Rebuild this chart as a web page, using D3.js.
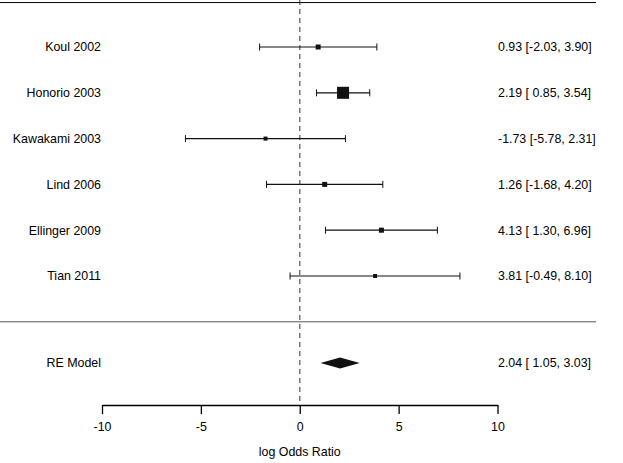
<!DOCTYPE html>
<html>
<head>
<meta charset="utf-8">
<script src="https://cdn.jsdelivr.net/npm/d3@7"></script>
<style>
  body { margin: 0; background: #fff; }
  text { font-family: "Liberation Sans", Arial, sans-serif; font-size: 12.4px; fill: #000; }
</style>
</head>
<body>
<svg id="chart"></svg>
<script>
// study level data (log odds ratios)
var studies = ["Koul 2002", "Honorio 2003", "Kawakami 2003", "Lind 2006", "Ellinger 2009", "Tian 2011"];
var estimates = [0.93, 2.19, -1.73, 1.26, 4.13, 3.81];
var ciLower = [-2.03, 0.85, -5.78, -1.68, 1.30, -0.49];
var ciUpper = [3.90, 3.54, 2.31, 4.20, 6.96, 8.10];
var boxSize = [5, 12, 4, 5, 5, 4]; // marker size (weight)

// random effects summary
var summaryLabel = "RE Model";
var summaryEst = 2.04, summaryLower = 1.05, summaryUpper = 3.03;

var xTicks = [-10, -5, 0, 5, 10];
var xTitle = "log Odds Ratio";

var width = 623, height = 463;

var svg = d3.select("#chart")
    .attr("width", width)
    .attr("height", height);

var x = d3.scaleLinear()
    .domain([-10, 10])
    .range([102, 497.5]);

// rows: 6 = top study ... 1 = last study, 0 = separator, -1 = summary
var y = d3.scaleLinear()
    .domain([1, 6])
    .range([276, 47]);

// plain hyphen for negatives, like R output
var locale = d3.formatLocale({decimal: ".", thousands: ",", grouping: [3], currency: ["", ""], minus: "-"});
var fmt = locale.format(".2f");
function ciText(est, lo, hi) {
    var l = fmt(lo);
    if (lo >= 0) l = " " + l;
    return fmt(est) + " [" + l + ", " + fmt(hi) + "]";
}

var axisY = 405;
var rowSummary = -0.9;
var valueX = 498;

// reference line at 0
svg.append("line")
    .attr("x1", x(0)).attr("x2", x(0))
    .attr("y1", 0).attr("y2", axisY)
    .attr("stroke", "#777")
    .attr("stroke-width", 1.5)
    .attr("stroke-dasharray", "5,4");

// top and separator lines
svg.append("line")
    .attr("x1", 0).attr("x2", 596)
    .attr("y1", y(6.97)).attr("y2", y(6.97))
    .attr("stroke", "#000");

svg.append("line")
    .attr("x1", 0).attr("x2", 596)
    .attr("y1", y(0)).attr("y2", y(0))
    .attr("stroke", "#555");

var rows = studies.map(function(s, i) {
    return {name: s, est: estimates[i], lo: ciLower[i], hi: ciUpper[i], size: boxSize[i], row: studies.length - i};
});

var g = svg.selectAll(".study")
    .data(rows)
    .enter().append("g")
    .attr("class", "study");

g.append("line")
    .attr("x1", function(d) { return x(d.lo); })
    .attr("x2", function(d) { return x(d.hi); })
    .attr("y1", function(d) { return y(d.row); })
    .attr("y2", function(d) { return y(d.row); })
    .attr("stroke", "#111")
    .attr("stroke-width", 1.2);

g.append("line")
    .attr("x1", function(d) { return x(d.lo); })
    .attr("x2", function(d) { return x(d.lo); })
    .attr("y1", function(d) { return y(d.row) - 3.5; })
    .attr("y2", function(d) { return y(d.row) + 3.5; })
    .attr("stroke", "#111");

g.append("line")
    .attr("x1", function(d) { return x(d.hi); })
    .attr("x2", function(d) { return x(d.hi); })
    .attr("y1", function(d) { return y(d.row) - 3.5; })
    .attr("y2", function(d) { return y(d.row) + 3.5; })
    .attr("stroke", "#111");

g.append("rect")
    .attr("x", function(d) { return x(d.est) - d.size / 2; })
    .attr("y", function(d) { return y(d.row) - d.size / 2; })
    .attr("width", function(d) { return d.size; })
    .attr("height", function(d) { return d.size; })
    .attr("fill", "#111");

g.append("text")
    .attr("x", 101)
    .attr("y", function(d) { return y(d.row); })
    .attr("dy", "0.35em")
    .attr("text-anchor", "end")
    .text(function(d) { return d.name; });

g.append("text")
    .attr("x", valueX)
    .attr("y", function(d) { return y(d.row); })
    .attr("dy", "0.35em")
    .attr("text-anchor", "start")
    .text(function(d) { return ciText(d.est, d.lo, d.hi); });

// summary diamond
var ys = y(rowSummary);
svg.append("path")
    .attr("d", d3.line()([
        [x(summaryLower), ys], [x(summaryEst), ys - 5.5],
        [x(summaryUpper), ys], [x(summaryEst), ys + 5.5]
    ]) + "Z")
    .attr("fill", "#111");

svg.append("text")
    .attr("x", 101)
    .attr("y", ys)
    .attr("dy", "0.35em")
    .attr("text-anchor", "end")
    .text(summaryLabel);

svg.append("text")
    .attr("x", valueX)
    .attr("y", ys)
    .attr("dy", "0.35em")
    .attr("text-anchor", "start")
    .text(ciText(summaryEst, summaryLower, summaryUpper));

// x axis
var axis = svg.append("g")
    .attr("transform", "translate(0," + axisY + ")")
    .call(d3.axisBottom(x).tickValues(xTicks).tickFormat(locale.format("d"))
        .tickSize(9).tickPadding(8).tickSizeOuter(0));
axis.select(".domain").attr("stroke", "#000").attr("stroke-width", 1.3);
axis.selectAll(".tick line").attr("stroke", "#000").attr("stroke-width", 1.3);
axis.selectAll(".tick text")
    .style("font-family", "'Liberation Sans', Arial, sans-serif")
    .style("font-size", "12.4px")
    .attr("fill", "#000");

svg.append("text")
    .attr("x", x(0))
    .attr("y", 456)
    .attr("text-anchor", "middle")
    .text(xTitle);
</script>
</body>
</html>
